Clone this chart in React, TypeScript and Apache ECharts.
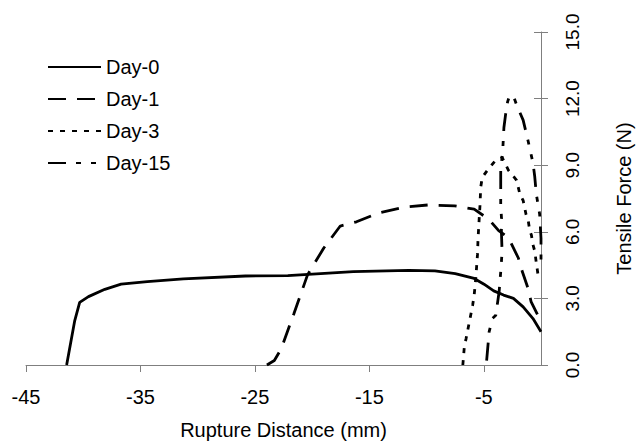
import React, { useEffect, useRef } from "react";
import * as echarts from "echarts";

const seriesNames = ["Day-0", "Day-1", "Day-3", "Day-15"];

const day0: [number, number][] = [
  [-41.45, 0], [-40.74, 2.0], [-40.31, 2.82], [-39.54, 3.08], [-38.11, 3.41],
  [-36.69, 3.64], [-34.4, 3.76], [-31.25, 3.88], [-25.83, 4.01], [-22.12, 4.03],
  [-16.4, 4.21], [-11.55, 4.26], [-9.27, 4.24], [-7.5, 4.12], [-5.84, 3.9],
  [-4.98, 3.64], [-4.13, 3.34], [-3.27, 3.15], [-2.41, 3.0], [-1.56, 2.62],
  [-0.7, 2.09], [0, 1.5],
];

const day1: [number, number][] = [
  [-23.95, 0], [-23.3, 0.2], [-22.7, 0.73], [-21.6, 2.3], [-20.4, 4.06],
  [-18.98, 5.27], [-17.54, 6.26], [-16.12, 6.45], [-14.12, 6.86], [-11.84, 7.12],
  [-9.84, 7.21], [-7.55, 7.17], [-5.84, 7.02], [-4.55, 6.56], [-3.7, 6.05],
  [-2.84, 5.73], [-1.98, 4.82], [-1.73, 4.36], [-1.13, 3.45], [-0.87, 2.86],
  [-0.13, 2.09], [0, 2.0],
];

const day3: [number, number][] = [
  [-6.83, 0], [-6.69, 0.88], [-6.55, 1.18], [-6.26, 1.94], [-5.97, 2.7],
  [-5.84, 3.15], [-5.7, 3.9], [-5.55, 4.97], [-5.5, 5.7], [-5.41, 6.5],
  [-5.33, 7.2], [-5.27, 8.0], [-5.13, 8.45], [-4.7, 8.76], [-4.0, 9.2],
  [-3.4, 9.35], [-2.84, 8.77], [-2.13, 8.32], [-1.84, 7.68], [-1.56, 7.41],
  [-1.3, 6.77], [-1.13, 6.55], [-0.98, 6.05], [-0.84, 5.86], [-0.7, 5.41],
  [-0.55, 5.14], [-0.41, 4.6], [-0.27, 4.1], [0, 3.9],
];

const day15: [number, number][] = [
  [-4.75, 0.2], [-4.53, 1.5], [-4.24, 2.1], [-3.95, 2.24], [-3.66, 3.3],
  [-3.52, 4.2], [-3.4, 5.1], [-3.46, 6.0], [-3.45, 6.6], [-3.52, 7.2],
  [-3.52, 8.0], [-3.52, 8.8], [-3.35, 9.6], [-3.24, 10.7], [-3.09, 11.3],
  [-2.92, 11.85], [-2.74, 12.15], [-2.4, 12.1], [-2.12, 11.7], [-1.56, 11.03],
  [-1.13, 10.1], [-0.7, 9.1], [-0.55, 8.5], [-0.41, 7.7], [-0.12, 6.8],
  [0, 5.7], [0, 4.5],
];

const xTicks = { min: -45, max: 0, interval: 10 };
const yTicks = { min: 0, max: 15, interval: 3 };

const FONT = "'Liberation Sans', Arial, sans-serif";

export default function App() {
  const ref = useRef<HTMLDivElement>(null);
  useEffect(() => {
    if (!ref.current) return;
    const chart = echarts.init(ref.current, null, { renderer: "svg" });
    const dashes: any[] = ["solid", [18, 11], [5, 7], [18, 10, 5, 10, 5, 10]];
    const datas = [day0, day1, day3, day15];
    chart.setOption({
      animation: false,
      backgroundColor: "#fff",
      textStyle: { fontFamily: FONT, color: "#000" },
      grid: { left: 26, right: 90, top: 32, bottom: 79, containLabel: false },
      legend: {
        orient: "vertical",
        left: 42,
        top: 52,
        itemWidth: 53,
        itemHeight: 14,
        itemGap: 12,
        padding: 5,
        itemStyle: { opacity: 0, borderWidth: 0 },
        textStyle: { fontSize: 20, color: "#000", fontFamily: FONT },
        data: seriesNames,
      },
      xAxis: {
        type: "value",
        min: xTicks.min,
        max: xTicks.max,
        interval: xTicks.interval,
        name: "Rupture Distance (mm)",
        nameLocation: "middle",
        nameGap: 55,
        nameTextStyle: { fontSize: 20, color: "#000", fontFamily: FONT },
        axisLine: { show: true, lineStyle: { color: "#7f7f7f", width: 1 } },
        axisTick: { show: true, length: 7, lineStyle: { color: "#7f7f7f" } },
        axisLabel: {
          fontSize: 20,
          color: "#000",
          margin: 22,
          fontFamily: FONT,
          showMaxLabel: false,
        },
        splitLine: { show: false },
      },
      yAxis: [
        {
          type: "value",
          position: "right",
          min: yTicks.min,
          max: yTicks.max,
          interval: yTicks.interval,
          name: "Tensile Force (N)",
          nameLocation: "middle",
          nameRotate: 90,
          nameGap: 73,
          nameTextStyle: { fontSize: 20, color: "#000", fontFamily: FONT },
          axisLine: { show: true, lineStyle: { color: "#7f7f7f", width: 1 } },
          axisTick: { show: true, length: 7, lineStyle: { color: "#7f7f7f" } },
          axisLabel: {
            fontSize: 19,
            color: "#000",
            rotate: 90,
            margin: 22,
            fontFamily: FONT,
            formatter: (v: number) => v.toFixed(1),
          },
          splitLine: { show: false },
        },
        {
          type: "value",
          position: "right",
          min: yTicks.min,
          max: yTicks.max,
          interval: yTicks.interval,
          axisLine: { show: false },
          axisTick: { show: true, inside: true, length: 7, lineStyle: { color: "#7f7f7f" } },
          axisLabel: { show: false },
          splitLine: { show: false },
        },
      ],
      series: seriesNames.map((name, i) => ({
        name,
        type: "line",
        yAxisIndex: 0,
        data: datas[i],
        symbol: "none",
        showSymbol: false,
        smooth: false,
        lineStyle: { color: "#000", width: 2.8, type: dashes[i], cap: "butt" },
        itemStyle: { color: "#000" },
      })),
    });
    return () => chart.dispose();
  }, []);
  return (
    <div
      ref={ref}
      style={{ position: "absolute", left: 0, top: 0, width: 642, height: 445 }}
    />
  );
}
